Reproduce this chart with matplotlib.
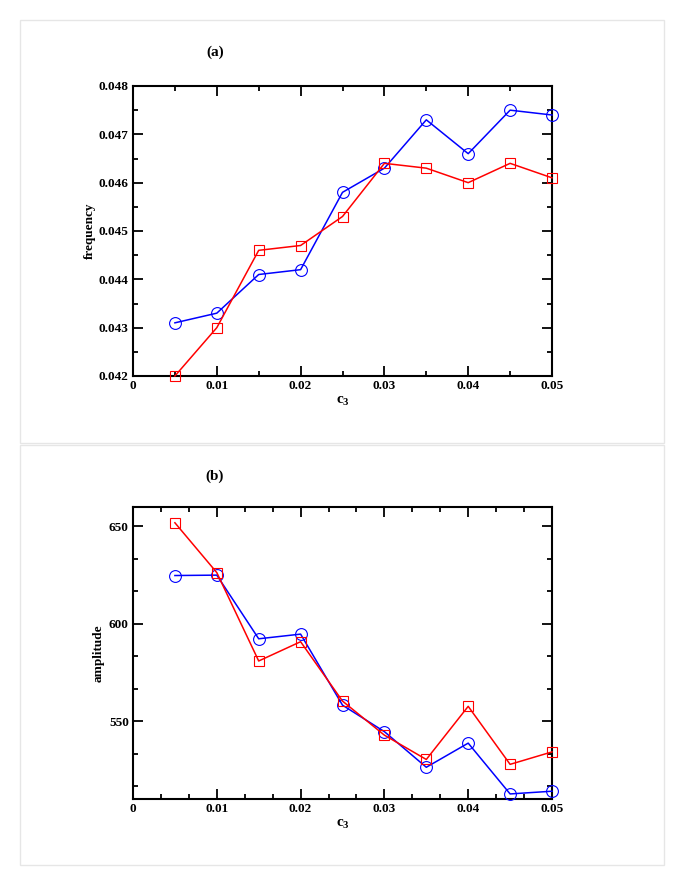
import matplotlib
matplotlib.use("Agg")
import matplotlib.pyplot as plt
from matplotlib.patches import Rectangle
from matplotlib.ticker import MultipleLocator, FixedLocator

plt.rcParams['font.family'] = ['Liberation Serif', 'DejaVu Serif']
plt.rcParams['font.weight'] = 'bold'
plt.rcParams['mathtext.fontset'] = 'custom'
plt.rcParams['mathtext.rm'] = 'Liberation Serif:bold'
plt.rcParams['mathtext.bf'] = 'Liberation Serif:bold'
plt.rcParams['mathtext.it'] = 'Liberation Serif:bold'

# -----------------------
# DATA
# -----------------------

c3 = [0.005, 0.01, 0.015, 0.02, 0.025, 0.03, 0.035, 0.04, 0.045, 0.05]

freq_blue = [0.0431, 0.0433, 0.0441, 0.0442, 0.0458, 0.0463, 0.0473, 0.0466, 0.0475, 0.0474]
freq_red = [0.0420, 0.0430, 0.0446, 0.0447, 0.0453, 0.0464, 0.0463, 0.0460, 0.0464, 0.0461]

amp_blue = [624.8, 625.0, 592.3, 594.7, 558.2, 544.6, 526.3, 538.7, 512.6, 514.0]
amp_red = [651.9, 626.3, 580.9, 590.8, 560.3, 542.8, 530.3, 557.6, 527.8, 534.2]

x_ticks = [0, 0.01, 0.02, 0.03, 0.04, 0.05]
x_ticklabels = ['0', '0.01', '0.02', '0.03', '0.04', '0.05']
freq_ticks = [0.042, 0.043, 0.044, 0.045, 0.046, 0.047, 0.048]
amp_ticks = [550, 600, 650]

W, H = 685, 886
fig = plt.figure(figsize=(W / 100, H / 100), dpi=100)


def px_axes(left, top, right, bottom):
    return fig.add_axes([left / W, 1 - bottom / H, (right - left) / W, (bottom - top) / H])


def style_axes(ax, x_minor):
    for s in ax.spines.values():
        s.set_linewidth(1.5)
    ax.tick_params(which='both', direction='in', top=True, right=True, width=1.3)
    ax.tick_params(which='major', length=7, labelsize=9.5, pad=3)
    ax.tick_params(which='minor', length=3.5)
    ax.set_xlim(0, 0.05)
    ax.set_xticks(x_ticks)
    ax.set_xticklabels(x_ticklabels)
    ax.xaxis.set_minor_locator(MultipleLocator(x_minor))
    for lab in ax.get_xticklabels() + ax.get_yticklabels():
        lab.set_fontweight('bold')


def draw_series(ax, y, color, marker, ms):
    ax.plot(c3, y, color=color, lw=1.1, marker=marker, ms=ms,
            mfc='none', mec=color, mew=0.8, clip_on=False, zorder=3)


# panel frames
for top, bot in [(20, 443), (445, 865)]:
    fig.patches.append(Rectangle((20 / W, 1 - bot / H), 644 / W, (bot - top) / H,
                                 transform=fig.transFigure, fill=False,
                                 edgecolor='#e6e6e6', lw=1.0))

# -----------------------
# (a) frequency
# -----------------------
ax1 = px_axes(133, 86, 552, 376)
draw_series(ax1, freq_blue, '#0000ff', 'o', 8.5)
draw_series(ax1, freq_red, '#ff0000', 's', 6.5)
ax1.set_ylim(0.042, 0.048)
ax1.set_yticks(freq_ticks)
ax1.set_yticklabels([f"{v:.3f}" for v in freq_ticks])
ax1.yaxis.set_minor_locator(MultipleLocator(0.0005))
style_axes(ax1, 0.005)
ax1.set_ylabel('frequency', fontsize=9.5, fontweight='bold', labelpad=2)
ax1.set_xlabel('c$_3$', fontsize=11, fontweight='bold', labelpad=2)
fig.text(215 / W, 1 - 52 / H, '(a)', ha='center', va='center', fontsize=11, fontweight='bold')

# -----------------------
# (b) amplitude
# -----------------------
ax2 = px_axes(133, 507, 552, 799)
draw_series(ax2, amp_blue, '#0000ff', 'o', 8.5)
draw_series(ax2, amp_red, '#ff0000', 's', 6.5)
ax2.set_ylim(510, 660)
ax2.set_yticks(amp_ticks)
ax2.yaxis.set_minor_locator(FixedLocator([516.67, 533.33, 566.67, 583.33, 616.67, 633.33]))
style_axes(ax2, 0.05 / 15)
ax2.set_ylabel('amplitude', fontsize=9.5, fontweight='bold', labelpad=3)
ax2.set_xlabel('c$_3$', fontsize=11, fontweight='bold', labelpad=2)
fig.text(215 / W, 1 - 476 / H, '(b)', ha='center', va='center', fontsize=11, fontweight='bold')

fig.savefig('out.png', dpi=100)
